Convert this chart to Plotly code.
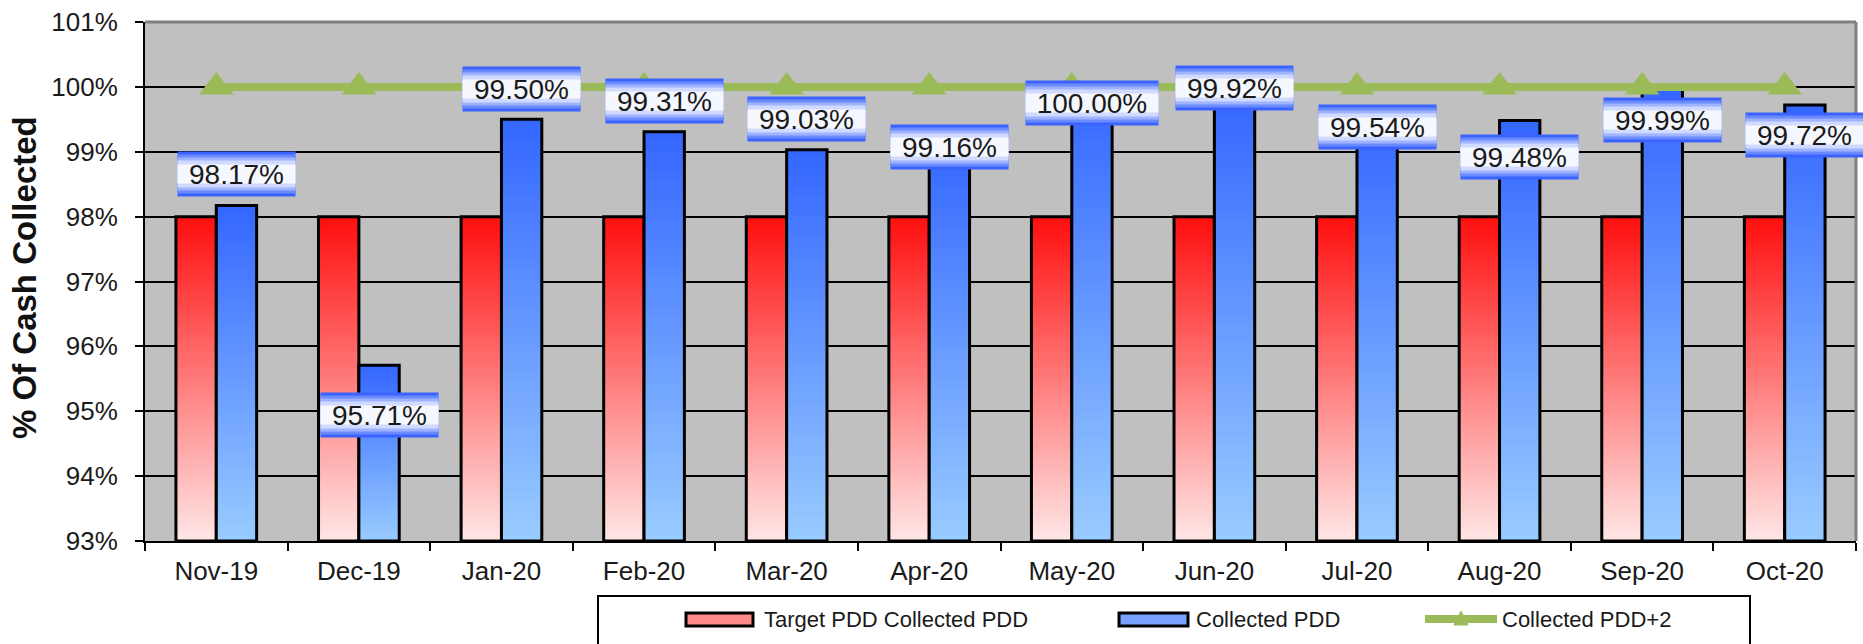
import plotly.graph_objects as go

# ---------------- data ----------------
months = ["Nov-19", "Dec-19", "Jan-20", "Feb-20", "Mar-20", "Apr-20",
          "May-20", "Jun-20", "Jul-20", "Aug-20", "Sep-20", "Oct-20"]
target_pdd = [98, 98, 98, 98, 98, 98, 98, 98, 98, 98, 98, 98]
collected_pdd = [98.17, 95.71, 99.50, 99.31, 99.03, 99.16,
                 100.00, 99.92, 99.54, 99.48, 99.99, 99.72]
collected_pdd2 = [100, 100, 100, 100, 100, 100, 100, 100, 100, 100, 100, 100]
y_ticks = [93, 94, 95, 96, 97, 98, 99, 100, 101]
y_tick_labels = ["93%", "94%", "95%", "96%", "97%", "98%", "99%", "100%", "101%"]

# where the value boxes sit (axis units), as placed in the original
label_pos = [98.65, 94.94, 99.97, 99.78, 99.51, 99.08,
             99.75, 99.98, 99.38, 98.92, 99.49, 99.26]

# ---------------- layout constants ----------------
W, H = 1863, 644
L, R, T, B = 145, 7, 22, 103
PW, PH = W - L - R, H - T - B
Y_MIN, Y_MAX = 93, 101
BW = 0.283
N = 60
FONT = "Arial, Liberation Sans, sans-serif"


def xp(px):
    return (px - L) / PW


def yp(py):
    return (H - B - py) / PH


def mix(c0, c1, t):
    return "rgb(%d,%d,%d)" % tuple(round(a + (b - a) * t) for a, b in zip(c0, c1))


fig = go.Figure()


def gradient_bars(vals, c_bot, c_top, offset, name):
    for k in range(N):
        f = k / N
        col = mix(c_bot, c_top, (k + 0.5) / N)
        base = [Y_MIN + (v - Y_MIN) * f for v in vals]
        hgt = [v - b for v, b in zip(vals, base)]
        fig.add_trace(go.Bar(x=months, y=hgt, base=base, offset=offset, width=BW,
                             marker=dict(color=col, line=dict(width=0)),
                             showlegend=False, hoverinfo="skip"))
    fig.add_trace(go.Bar(x=months, y=[v - Y_MIN for v in vals], base=[Y_MIN] * len(vals),
                         offset=offset, width=BW, name=name,
                         marker=dict(color="rgba(0,0,0,0)", line=dict(color="black", width=3)),
                         showlegend=False))


gradient_bars(target_pdd, (255, 230, 230), (255, 14, 14), -BW, "Target PDD Collected PDD")
gradient_bars(collected_pdd, (153, 204, 255), (51, 102, 255), 0.0, "Collected PDD")

fig.add_trace(go.Scatter(x=months, y=collected_pdd2, mode="lines+markers",
                         name="Collected PDD+2",
                         line=dict(color="#9bbb59", width=8),
                         marker=dict(symbol="triangle-up", size=30, color="#9bbb59"),
                         showlegend=False))

# ---------------- value labels ----------------
cat_px = PW / len(months)
xshift = BW / 2 * cat_px
layers = [(44, "#3a63ff"), (38, "#6a8bff"), (32, "#a0b3ff"), (26, "#d0daff"), (18, "#f6f8ff")]
annotations = []
for m, v, ly in zip(months, collected_pdd, label_pos):
    txt = "%.2f%%" % v
    bw = 117 + 15 * (len(txt) - 6)
    for hh, col in layers:
        annotations.append(dict(x=m, y=ly, xref="x", yref="y", text=txt, showarrow=False,
                                xshift=xshift, width=bw, height=hh, borderpad=0,
                                bgcolor=col, font=dict(family=FONT, size=28, color="rgba(0,0,0,0)"),
                                xanchor="center", yanchor="middle"))
    annotations.append(dict(x=m, y=ly, xref="x", yref="y", text=txt, showarrow=False,
                            xshift=xshift, width=bw, height=44, borderpad=0,
                            font=dict(family=FONT, size=28, color="#1a1a1a"),
                            xanchor="center", yanchor="middle"))

# axis title
annotations.append(dict(x=xp(24), y=yp(278), xref="paper", yref="paper",
                        text="% Of Cash Collected", textangle=-90, showarrow=False,
                        xanchor="center", yanchor="middle",
                        font=dict(family=FONT, size=33, color="#111111", weight="bold")))

# ---------------- legend (drawn) ----------------
LEG_Y = 619
shapes = [
    # plot frame (top / right grey)
    dict(type="line", xref="paper", yref="paper", x0=0, x1=1, y0=1, y1=1,
         line=dict(color="#808080", width=3), layer="above"),
    dict(type="line", xref="paper", yref="paper", x0=1, x1=1, y0=0, y1=1,
         line=dict(color="#808080", width=3), layer="above"),
    # legend box
    dict(type="rect", xref="paper", yref="paper", x0=xp(598), x1=xp(1750), y0=yp(596), y1=yp(670),
         line=dict(color="black", width=2), fillcolor="white"),
    dict(type="rect", xref="paper", yref="paper", x0=xp(686), x1=xp(753), y0=yp(613), y1=yp(626),
         line=dict(color="black", width=3), fillcolor="#ff8a8a"),
    dict(type="rect", xref="paper", yref="paper", x0=xp(1119), x1=xp(1188), y0=yp(613), y1=yp(626),
         line=dict(color="black", width=3), fillcolor="#79a2ff"),
    dict(type="line", xref="paper", yref="paper", x0=xp(1425), x1=xp(1497), y0=yp(LEG_Y), y1=yp(LEG_Y),
         line=dict(color="#9bbb59", width=8)),
    dict(type="path", xref="paper", yref="paper",
         path="M %f,%f L %f,%f L %f,%f Z" % (xp(1454), yp(625), xp(1468), yp(625), xp(1461), yp(611)),
         line=dict(color="#9bbb59", width=1), fillcolor="#9bbb59"),
]
for tx, t in [(762, "Target PDD Collected PDD"), (1194, "Collected PDD"), (1500, "Collected PDD+2")]:
    annotations.append(dict(x=xp(tx), y=yp(LEG_Y), xref="paper", yref="paper", text=t,
                            showarrow=False, xanchor="left", yanchor="middle",
                            font=dict(family=FONT, size=22, color="#1a1a1a")))

fig.update_layout(
    width=W, height=H, autosize=False,
    margin=dict(l=L, r=R, t=T, b=B, autoexpand=False),
    paper_bgcolor="white", plot_bgcolor="#c0c0c0",
    barmode="overlay", showlegend=False,
    font=dict(family=FONT, color="#1a1a1a"),
    shapes=shapes, annotations=annotations,
    xaxis=dict(type="category", categoryorder="array", categoryarray=months,
               range=[-0.5, len(months) - 0.5],
               tickson="boundaries", ticks="outside", ticklen=8, tickwidth=2, tickcolor="black",
               showline=True, linecolor="black", linewidth=2, showgrid=False,
               tickfont=dict(family=FONT, size=26, color="#1a1a1a"), ticklabelstandoff=6),
    yaxis=dict(range=[Y_MIN, Y_MAX], tickmode="array", tickvals=y_ticks, ticktext=y_tick_labels,
               ticks="outside", ticklen=8, tickwidth=2, tickcolor="black",
               showline=True, linecolor="black", linewidth=2,
               showgrid=True, gridcolor="black", gridwidth=1.5, zeroline=False,
               tickfont=dict(family=FONT, size=26, color="#1a1a1a"), ticklabelstandoff=12),
)

fig.write_html("out.html", config={"displayModeBar": False},
               post_script="document.body.style.margin='0';document.body.style.overflow='hidden';")
